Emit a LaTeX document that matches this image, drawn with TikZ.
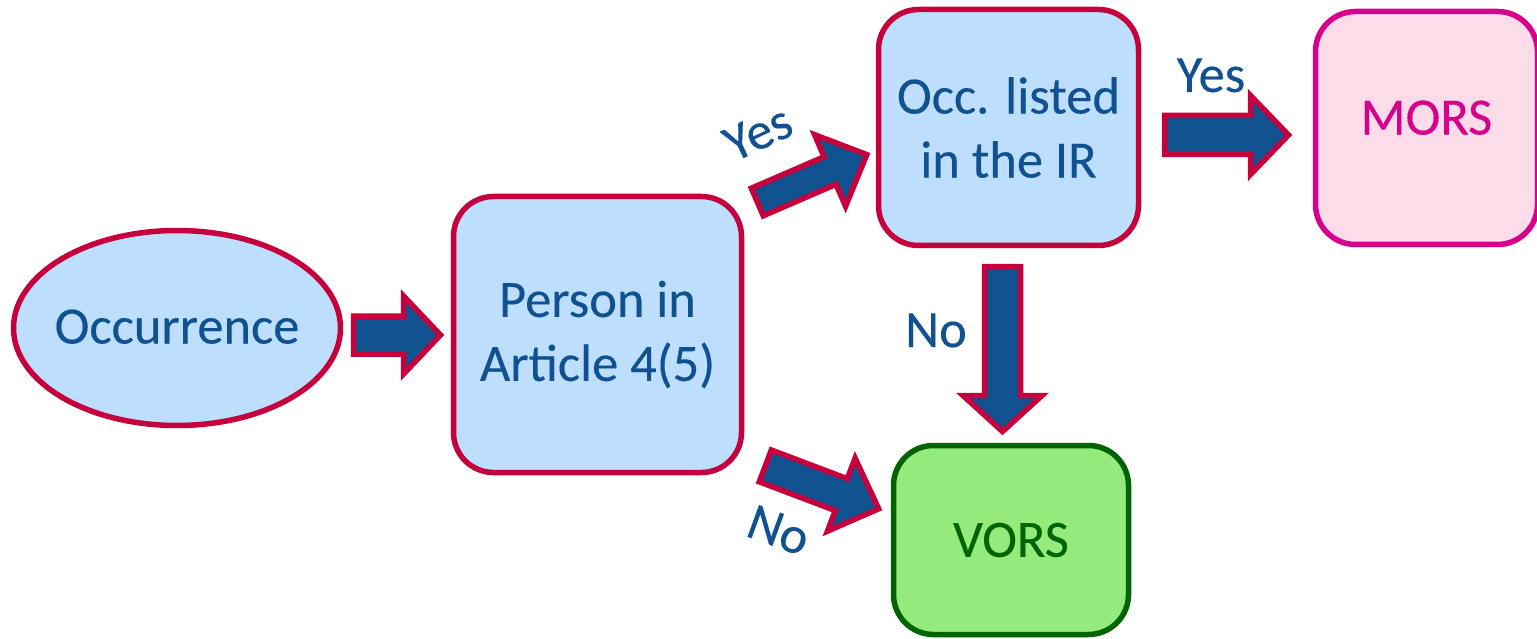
\documentclass[tikz,border=0pt]{standalone}
\usepackage{fontspec}
\setmainfont{Carlito}
\newfontfamily\heavyfont{Carlito}[FakeBold=0.25]
\usetikzlibrary{shapes.geometric,calc}
\definecolor{txtblue}{RGB}{16,82,145}
\definecolor{arrblue}{RGB}{16,82,143}
\definecolor{crim}{RGB}{198,0,60}
\definecolor{lblue}{RGB}{189,222,252}
\definecolor{magb}{RGB}{214,0,140}
\definecolor{pinkf}{RGB}{252,220,232}
\definecolor{greenf}{RGB}{148,234,122}
\definecolor{greenb}{RGB}{0,100,0}
\tikzset{
  bigfont/.style={font=\heavyfont\fontsize{52.5}{64}\selectfont},
  stepbox/.style={draw=crim, fill=lblue, line width=5.5pt, rounded corners=40pt,
    text=txtblue, align=center, bigfont, inner sep=0pt},
  startell/.style={ellipse, draw=crim, fill=lblue, line width=5.5pt,
    text=txtblue, bigfont, inner sep=0pt},
  morsbox/.style={stepbox, draw=magb, fill=pinkf, text=magb},
  vorsbox/.style={stepbox, draw=greenb, fill=greenf, text=greenb},
  barrow/.style={draw=crim, fill=arrblue, line width=5.5pt, line join=miter},
  lbl/.style={text=txtblue, bigfont, inner sep=0pt, anchor=base}
}
% block arrow from tail #1 to tip #2; shaft half-width #3, head half-width #4, head length #5
\newcommand\blockarrow[5]{%
  \draw[barrow] let \p1=(#1), \p2=(#2),
    \n1={atan2(\y2-\y1,\x2-\x1)}, \n2={veclen(\x2-\x1,\y2-\y1)} in
    {[shift={(\p1)}, rotate=\n1]
      (0pt,-#3pt) -- ({(\n2-#5)*1pt},-#3pt) -- ({(\n2-#5)*1pt},-#4pt)
      -- ({\n2*1pt},0pt) -- ({(\n2-#5)*1pt},#4pt) -- ({(\n2-#5)*1pt},#3pt)
      -- (0pt,#3pt) -- cycle};
}
\begin{document}
\begin{tikzpicture}[x=1pt,y=-1pt]
\useasboundingbox (0,0) rectangle (1537,639);

\node[startell, minimum width=327pt, minimum height=195pt] (occ) at (177,328) {\makebox[0pt]{\raisebox{3pt}{Occurrence}}};
\node[stepbox, minimum width=288pt, minimum height=276pt] (person) at (597.5,334.5) {\raisebox{5pt}{Person in}\\\raisebox{5pt}{Article 4(5)}};
\node[stepbox, minimum width=260pt, minimum height=236pt] (listed) at (1008.5,127.5) {Occ. listed\\in the IR};
\node[morsbox, minimum width=222pt, minimum height=233pt] (mors) at (1426.5,128) {\raisebox{21pt}{MORS}};
\node[vorsbox, minimum width=235pt, minimum height=189pt] (vors) at (1011,540) {VORS};

% arrow end points
\coordinate (a1t) at (353.5,335);   \coordinate (a1h) at (440.5,335);
\coordinate (a2t) at (757.3,202);   \coordinate (a2h) at (866.8,154.6);
\coordinate (a3t) at (765.3,465.9); \coordinate (a3h) at (878.7,508.8);
\coordinate (a4t) at (1164.5,135);  \coordinate (a4h) at (1288.5,135);
\coordinate (a5t) at (1002.5,266.5);\coordinate (a5h) at (1002.5,431.5);

\blockarrow{a1t}{a1h}{19}{39}{37}
\blockarrow{a2t}{a2h}{15}{39}{40}
\blockarrow{a3t}{a3h}{17}{39}{40}
\blockarrow{a4t}{a4h}{19.5}{39.5}{38}
\blockarrow{a5t}{a5h}{18}{39.5}{36}

\node[lbl, rotate=25] (yes1) at (765,148) {Yes};
\node[lbl, rotate=-20] (no1) at (773,546) {No};
\node[lbl] (yes2) at (1211,92) {Yes};
\node[lbl] (no2) at (936,347) {No};
\end{tikzpicture}
\end{document}
